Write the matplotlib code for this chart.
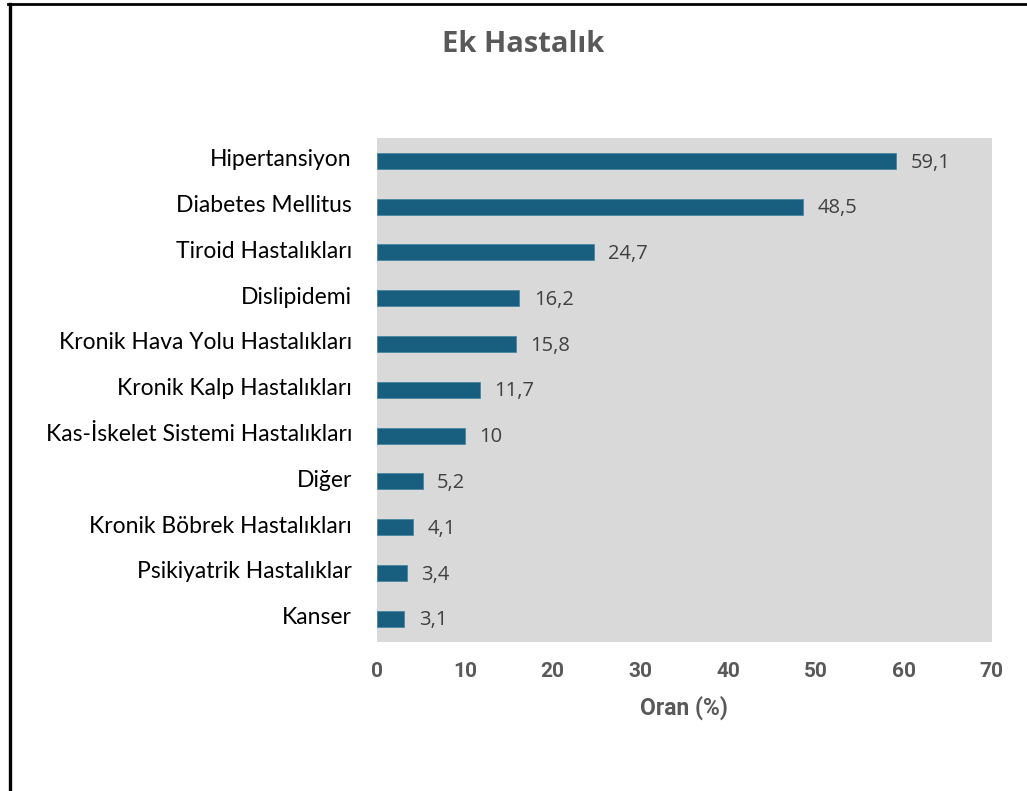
import matplotlib
matplotlib.use("Agg")
import matplotlib.pyplot as plt
from matplotlib.lines import Line2D
from matplotlib.transforms import ScaledTranslation

categories = ["Hipertansiyon", "Diabetes Mellitus", "Tiroid Hastalıkları", "Dislipidemi",
              "Kronik Hava Yolu Hastalıkları", "Kronik Kalp Hastalıkları",
              "Kas-İskelet Sistemi Hastalıkları", "Diğer", "Kronik Böbrek Hastalıkları",
              "Psikiyatrik Hastalıklar", "Kanser"]
values = [59.1, 48.5, 24.7, 16.2, 15.8, 11.7, 10, 5.2, 4.1, 3.4, 3.1]
value_labels = ["59,1", "48,5", "24,7", "16,2", "15,8", "11,7", "10", "5,2", "4,1", "3,4", "3,1"]
xticks = [0, 10, 20, 30, 40, 50, 60, 70]

plt.rcParams['font.family'] = ['Roboto', 'DejaVu Sans']

W, H = 1027, 791
fig = plt.figure(figsize=(W / 100, H / 100), dpi=100)
ax = fig.add_axes([377 / W, 1 - 641.5 / H, (991.5 - 377) / W, (641.5 - 138) / H])
ax.set_facecolor('#D9D9D9')

ypos = list(range(len(categories)))
ax.barh(ypos, values, height=0.35, color='#175E7F', edgecolor='#4A86A3', linewidth=0.6, zorder=3)
for y, v, lab in zip(ypos, values, value_labels):
    ax.annotate(lab, xy=(v, y), xytext=(10.5, -1.2), textcoords='offset points',
                va='center', ha='left', fontsize=14.5, color='#404040',
                family=['Open Sans', 'DejaVu Sans'])

ax.set_ylim(len(categories) - 0.5, -0.5)
ax.set_xlim(0, 70)
ax.set_yticks(ypos)
ax.set_yticklabels(categories, fontsize=16.5, color='#000000', family=['Lato', 'DejaVu Sans'])
ax.set_xticks(xticks)
ax.set_xticklabels([str(t) for t in xticks], fontsize=15, fontweight='bold', color='#595959')
ax.tick_params(axis='both', length=0)
ax.tick_params(axis='x', pad=15)
ax.tick_params(axis='y', pad=18)
shift = ScaledTranslation(0, 3 / 100, fig.dpi_scale_trans)
for lbl in ax.get_yticklabels():
    lbl.set_transform(lbl.get_transform() + shift)
for s in ax.spines.values():
    s.set_visible(False)
ax.set_xlabel("Oran (%)", fontsize=16.5, fontweight='bold', color='#595959', labelpad=10)

fig.text(523 / W, 1 - 44 / H, "Ek Hastalık", ha='center', va='center', fontsize=21,
         fontweight='bold', color='#595959', family=['Open Sans', 'DejaVu Sans'])

# outer frame (left and top lines)
fig.add_artist(Line2D([9.5 / W, 9.5 / W], [0, 1 - 3.5 / H], transform=fig.transFigure,
                      color='black', linewidth=2.4))
fig.add_artist(Line2D([8.3 / W, 1], [1 - 3.5 / H, 1 - 3.5 / H], transform=fig.transFigure,
                      color='black', linewidth=2.0))

fig.savefig("out.png", dpi=100, facecolor='white')
